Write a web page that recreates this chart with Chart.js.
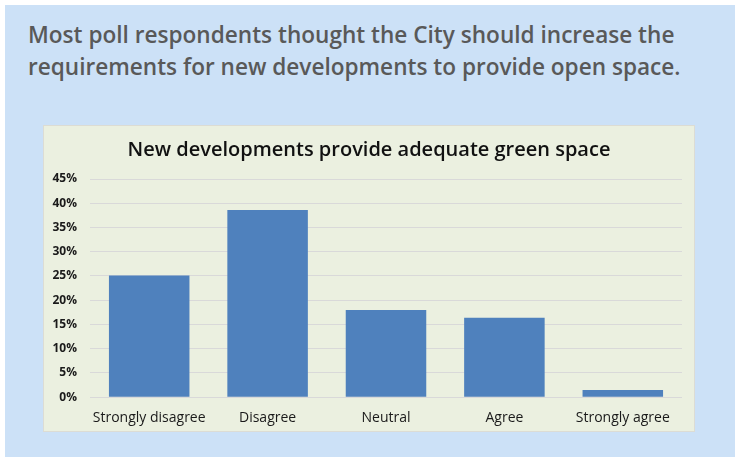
<!DOCTYPE html>
<html>
<head>
<meta charset="utf-8">
<script src="https://cdn.jsdelivr.net/npm/chart.js@4/dist/chart.umd.min.js"></script>
<style>
  body { margin: 0; background: #fff; font-family: "Open Sans", sans-serif; }
  #outer { position: absolute; left: 5px; top: 5px; width: 730px; height: 452px; background: #cce1f7; }
  #headline { position: absolute; left: 23px; top: 14px; margin: 0; font-size: 22.6px; font-weight: 600; line-height: 32px; color: #595959; }
  #panel { position: absolute; left: 38px; top: 120px; width: 652px; height: 307px; background: #ebf0e0; border: 1px solid #dcdcd4; box-sizing: border-box; }
</style>
</head>
<body>
<div id="outer">
  <h1 id="headline">Most poll respondents thought the City should increase the<br>requirements for new developments to provide open space.</h1>
  <div id="panel"><canvas id="plot"></canvas></div>
</div>
<script>
const categories = ['Strongly disagree', 'Disagree', 'Neutral', 'Agree', 'Strongly agree'];
const shares = [0.251, 0.386, 0.180, 0.164, 0.015];
const chartTitle = 'New developments provide adequate green space';

let ctx = document.getElementById('plot').getContext('2d');
window.myChart = new Chart(ctx, {
    type: 'bar',
    data: {
        labels: categories,
        datasets: [{
            label: 'Share',
            data: shares,
            backgroundColor: '#4f81bd',
            borderWidth: 0,
            categoryPercentage: 1,
            barPercentage: 0.68
        }]
    },
    options: {
        responsive: true,
        maintainAspectRatio: false,
        animation: false,
        layout: { padding: { left: 0, right: 0, top: 6, bottom: 1 } },
        plugins: {
            legend: { display: false },
            tooltip: { enabled: false },
            title: {
                display: true,
                text: chartTitle,
                color: '#111',
                font: { family: 'Open Sans', size: 20, weight: '600' },
                padding: { top: 6, bottom: 17 }
            }
        },
        scales: {
            x: {
                grid: { display: false },
                border: { display: false },
                // keep the plot right edge 12px in from the panel
                afterFit: scale => { scale.paddingLeft = 0; scale.paddingRight = 12; },
                ticks: {
                    color: '#1a1a1a',
                    font: { family: 'Open Sans', size: 14 },
                    padding: 4,
                    maxRotation: 0,
                    minRotation: 0,
                    autoSkip: false
                }
            },
            y: {
                min: 0,
                max: 0.45,
                grid: { color: '#d9d9d9', drawTicks: false },
                border: { display: false },
                afterFit: scale => { scale.width = 46; },
                ticks: {
                    stepSize: 0.05,
                    padding: 13,
                    color: '#1a1a1a',
                    font: { family: 'Open Sans', size: 12, weight: 'bold' },
                    callback: v => Math.round(v * 100) + '%'
                }
            }
        }
    }
});
</script>
</body>
</html>
